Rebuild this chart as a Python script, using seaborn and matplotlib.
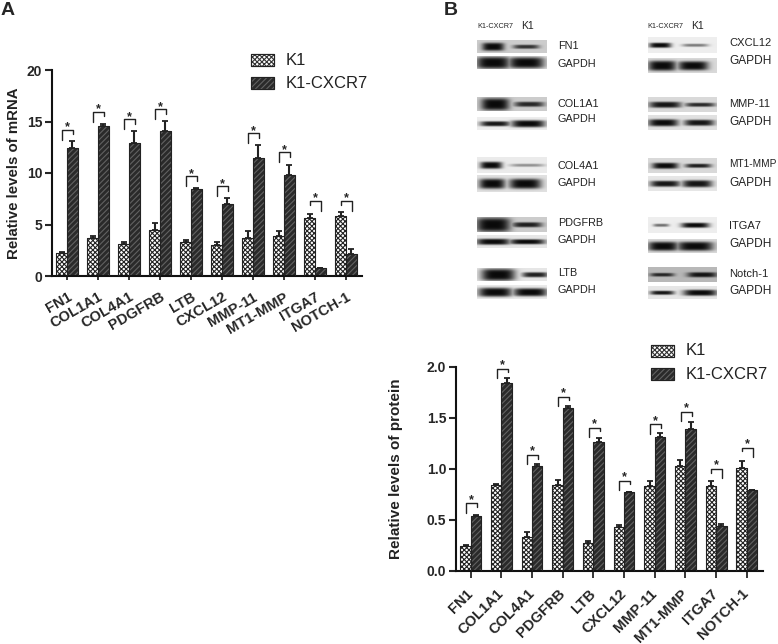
import numpy as np
import pandas as pd
import seaborn as sns
import matplotlib
matplotlib.use("Agg")
import matplotlib.pyplot as plt
from matplotlib.patches import Rectangle
from matplotlib.transforms import ScaledTranslation

sns.set_style("white")
plt.rcParams['font.family'] = ['Liberation Sans', 'DejaVu Sans']
plt.rcParams['hatch.linewidth'] = 0.8

W, H = 778, 644

# Data
genes = ['FN1', 'COL1A1', 'COL4A1', 'PDGFRB', 'LTB', 'CXCL12', 'MMP-11', 'MT1-MMP', 'ITGA7', 'NOTCH-1']
groups = ['K1', 'K1-CXCR7']

mrna_k1 = [2.2, 3.7, 3.15, 4.5, 3.3, 3.05, 3.7, 3.85, 5.6, 5.8]
mrna_k1_err = [0.1, 0.15, 0.15, 0.6, 0.2, 0.25, 0.65, 0.5, 0.45, 0.4]
mrna_cxcr7 = [12.4, 14.6, 12.9, 14.1, 8.4, 7.0, 11.5, 9.8, 0.75, 2.1]
mrna_cxcr7_err = [0.7, 0.2, 1.15, 0.95, 0.1, 0.6, 1.25, 1.0, 0.05, 0.55]
mrna_sig = [14.2, 15.95, 15.2, 16.2, 9.7, 8.7, 13.85, 12.0, 7.3, 7.3]

prot_k1 = [0.24, 0.84, 0.33, 0.84, 0.27, 0.43, 0.83, 1.03, 0.83, 1.01]
prot_k1_err = [0.015, 0.01, 0.05, 0.05, 0.025, 0.02, 0.05, 0.06, 0.05, 0.07]
prot_cxcr7 = [0.54, 1.84, 1.03, 1.6, 1.26, 0.77, 1.31, 1.39, 0.44, 0.79]
prot_cxcr7_err = [0.005, 0.05, 0.02, 0.015, 0.04, 0.005, 0.04, 0.07, 0.02, 0.005]
prot_sig = [0.66, 1.98, 1.134, 1.706, 1.40, 0.882, 1.435, 1.556, 0.997, 1.206]

# Western blot panels: label, band strength in the two lanes, background grey
blot_left = [('FN1', 1.0, 0.8, 0.80), ('GAPDH', 1.0, 1.0, 0.88),
             ('COL1A1', 1.0, 0.85, 0.80), ('GAPDH', 0.95, 1.0, 0.93),
             ('COL4A1', 1.0, 0.4, 0.92), ('GAPDH', 1.0, 1.0, 0.88),
             ('PDGFRB', 1.0, 0.9, 0.80), ('GAPDH', 1.0, 1.0, 0.90),
             ('LTB', 1.0, 0.9, 0.90), ('GAPDH', 1.0, 1.0, 0.92)]
blot_right = [('CXCL12', 1.0, 0.5, 0.93), ('GAPDH', 1.0, 1.0, 0.85),
              ('MMP-11', 0.95, 0.85, 0.85), ('GAPDH', 1.0, 0.95, 0.88),
              ('MT1-MMP', 1.0, 0.9, 0.85), ('GAPDH', 0.95, 0.95, 0.90),
              ('ITGA7', 0.55, 1.0, 0.93), ('GAPDH', 1.0, 1.0, 0.85),
              ('Notch-1', 0.85, 0.95, 0.72), ('GAPDH', 0.95, 1.0, 0.90)]


def make_axes(left, right, bottom, top):
    return fig.add_axes([left / W, 1 - bottom / H, (right - left) / W, (bottom - top) / H])


def draw_bars(ax, k1, k1_err, cxcr7, cxcr7_err, sig, leg_long, leg_short, star_pad, bx0, bx1):
    df = pd.DataFrame({'gene': genes * 2,
                       'group': ['K1'] * 10 + ['K1-CXCR7'] * 10,
                       'value': k1 + cxcr7})
    sns.barplot(data=df, x='gene', y='value', hue='group', hue_order=groups, width=0.68,
                errorbar=None, legend=False, ax=ax)
    styles = [('white', '#222222', 'xxxxxxx'), ('#2a2a2a', '#626262', '//////')]
    errs = [k1_err, cxcr7_err]
    for cont, (fc, ec, hatch), err in zip(ax.containers, styles, errs):
        xs = []
        for b in cont:
            b.set_facecolor(fc)
            b.set_edgecolor(ec)
            b.set_hatch(hatch)
            b.set_linewidth(0.6)
            ax.add_patch(Rectangle((b.get_x(), 0), b.get_width(), b.get_height(), fill=False,
                                   ec='#222222', lw=0.8, zorder=3))
            xs.append(b.get_x() + b.get_width() / 2)
        tops = [b.get_height() for b in cont]
        ax.errorbar(xs, tops, yerr=[np.zeros(10), err], fmt='none', ecolor='#222222',
                    elinewidth=1.5, capsize=2.5, capthick=1.3, zorder=4)
    # significance brackets
    for i, y in enumerate(sig):
        x0 = i + bx0
        x1 = i + bx1
        if k1[i] < cxcr7[i]:
            y0, y1 = y - leg_long, y - leg_short
        else:
            y0, y1 = y - leg_short, y - leg_long
        ax.plot([x0, x0, x1, x1], [y0, y, y, y1], color='#222222', lw=1.0, clip_on=False)
        ax.text(i + (bx0 + bx1) / 2, y - star_pad, '*', ha='center', va='bottom', fontsize=9,
                fontweight='bold', clip_on=False)


def style_axes(ax, ylabel, yticks, fmt, rotation, xlim, ylim, tick_x, lab_size, labelpad, shift):
    ax.set_xlim(*xlim)
    ax.set_ylim(*ylim)
    ax.set_yticks(yticks)
    ax.set_yticklabels([fmt % t for t in yticks], fontsize=10, fontweight='bold')
    ax.set_xlabel('')
    ax.set_ylabel(ylabel, fontsize=lab_size, fontweight='bold', labelpad=labelpad, color='#222222')
    ax.set_xticks(range(10))
    ax.set_xticklabels(genes, fontsize=10.5, fontweight='bold', rotation=rotation, ha='right',
                       rotation_mode='anchor')
    ax.tick_params(axis='y', left=True, length=5, width=1.5, pad=2)
    ax.tick_params(axis='x', bottom=True, length=tick_x, width=1.3, pad=5)
    sns.despine(ax=ax)
    off = ScaledTranslation(shift[0] / 100, shift[1] / 100, fig.dpi_scale_trans)
    for t in ax.get_xticklabels():
        t.set_transform(t.get_transform() + off)
    for s in ['left', 'bottom']:
        ax.spines[s].set_linewidth(1.5)
        ax.spines[s].set_color('#111111')


fig = plt.figure(figsize=(W / 100, H / 100), dpi=100)

# Panel A
ax_a = make_axes(52, 362, 276, 70)
draw_bars(ax_a, mrna_k1, mrna_k1_err, mrna_cxcr7, mrna_cxcr7_err, mrna_sig, 0.97, 0.45, 0.35, -0.17, 0.18)
style_axes(ax_a, 'Relative levels of mRNA', [0, 5, 10, 15, 20], '%d', 30, (-0.484, 9.516), (0, 20), 3,
           10.8, 4, (-4, -2))
ax_a.tick_params(axis='x', pad=7)

# Panel B bars
ax_b = make_axes(456, 763, 570.7, 366.7)
draw_bars(ax_b, prot_k1, prot_k1_err, prot_cxcr7, prot_cxcr7_err, prot_sig, 0.09, 0.035, 0.025, -0.15, 0.2)
style_axes(ax_b, 'Relative levels of protein', [0, 0.5, 1.0, 1.5, 2.0], '%.1f', 45, (-0.48, 9.53), (0, 2), 5,
           11, 17, (-5, -2))

# Overlay in pixel coordinates for legends, letters and blots
ov = fig.add_axes([0, 0, 1, 1], zorder=5)
ov.patch.set_alpha(0)
ov.axis('off')


def legend_at(x, y1, y2):
    for y, lab, (fc, ec, hatch) in zip([y1, y2], groups,
                                       [('white', '#333333', 'xxxxxxx'), ('#2a2a2a', '#626262', '//////')]):
        ov.add_patch(Rectangle((x, y - 6), 23, 12, fc=fc, ec=ec, hatch=hatch, lw=0.8))
        ov.add_patch(Rectangle((x, y - 6), 23, 12, fill=False, ec='#222222', lw=0.8))
        ov.text(x + 35, y, lab, fontsize=12, va='center', ha='left', color='#222222')


legend_at(251, 60, 83)
legend_at(651, 350.5, 374)

ov.text(1, 15, 'A', fontsize=14, fontweight='bold', va='baseline')
ov.text(444, 15, 'B', fontsize=14, fontweight='bold', va='baseline')


def draw_blot(x0, x1, y0, y1, grey, bands):
    # bands: lane centre x, half width, half height, strength
    xs = np.arange(x0, x1, 0.5)
    ys = np.arange(y0, y1, 0.5)
    xx, yy = np.meshgrid(xs, ys)
    dark = np.zeros_like(xx)
    for cx, hw, hh, amp in bands:
        d = ((xx - cx) / hw) ** 4 + ((yy - (y0 + y1) / 2) / hh) ** 4
        dark = np.maximum(dark, amp * np.exp(-d))
    img = grey * (1 - dark) + 0.04 * dark
    ov.imshow(img, extent=(x0, x1, y1, y0), cmap='gray', vmin=0, vmax=1, aspect='auto',
              interpolation='bilinear')


# blot y range, lane 1 centre, half width, half height
left_rows = [(40, 53, 63, 11, 4), (56, 69, 63, 17, 6), (97, 111, 65, 14, 6), (117, 130, 65, 15, 2.5),
             (157, 173, 61, 11, 3.5), (175, 192, 62, 13, 5), (217, 232, 63, 17, 7), (235, 248, 63, 17, 3),
             (268, 281, 68, 17, 6), (285, 299, 65, 17, 4.5)]
left_lane2 = [(96, 13, 2), (96, 18, 5.5), (99, 15, 2.5), (98, 17, 3.5), (97, 17, 1.5), (95, 16, 5),
              (97, 15, 2.5), (97, 18, 2.5), (105, 13, 2.5), (100, 17, 4)]
left_label_y = [46, 64, 104, 119, 166, 183, 223, 240, 273, 290]
right_rows = [(37, 53, 230, 11, 2.5), (58, 73, 232, 14, 5), (97, 112, 235, 16, 3), (115, 130, 233, 15, 3.5),
              (158, 173, 235, 13, 3), (176, 191, 235, 15, 3), (217, 233, 231, 8, 1.5), (239, 253, 233, 15, 4.5),
              (267, 282, 232, 12, 1.8), (286, 299, 232, 12, 2)]
right_lane2 = [(265, 13, 1.5), (263, 15, 4.5), (270, 15, 2), (269, 15, 3), (268, 13, 2), (267, 15, 3.5),
               (265, 14, 2.5), (265, 18, 4.5), (272, 15, 2.5), (270, 17, 3)]
right_label_y = [43, 61, 104, 122, 164, 183, 226, 244, 274, 291]

for blots, rows, lane2, bx0, bx1, lab_x, lab_ys, lab_size in [
        (blot_left, left_rows, left_lane2, 477, 547, 558, left_label_y, 7.8),
        (blot_right, right_rows, right_lane2, 648, 717, 729, right_label_y, 8.0)]:
    for (lab, a1, a2, grey), (y0, y1, c1, hw1, hh1), (c2, hw2, hh2), ly in zip(blots, rows, lane2, lab_ys):
        draw_blot(bx0, bx1, y0, y1, grey, [(c1 + 430, hw1, hh1, a1), (c2 + 430, hw2, hh2, a2)])
        size = lab_size
        if lab_x == 729 and lab == 'GAPDH':
            size = 8.6
        if lab == 'MT1-MMP':
            size = 7.3
        ov.text(lab_x, ly, lab, fontsize=size, va='center', ha='left', color='#222222')

# lane headers
for x1, x2 in [(495, 528), (665, 698)]:
    ov.text(x1, 26, 'K1-CXCR7', fontsize=5.2, ha='center', va='center', color='#222222')
    ov.text(x2, 26, 'K1', fontsize=7.5, ha='center', va='center', color='#222222')

ov.set_xlim(0, W)
ov.set_ylim(H, 0)

fig.savefig('out.png', dpi=100)
